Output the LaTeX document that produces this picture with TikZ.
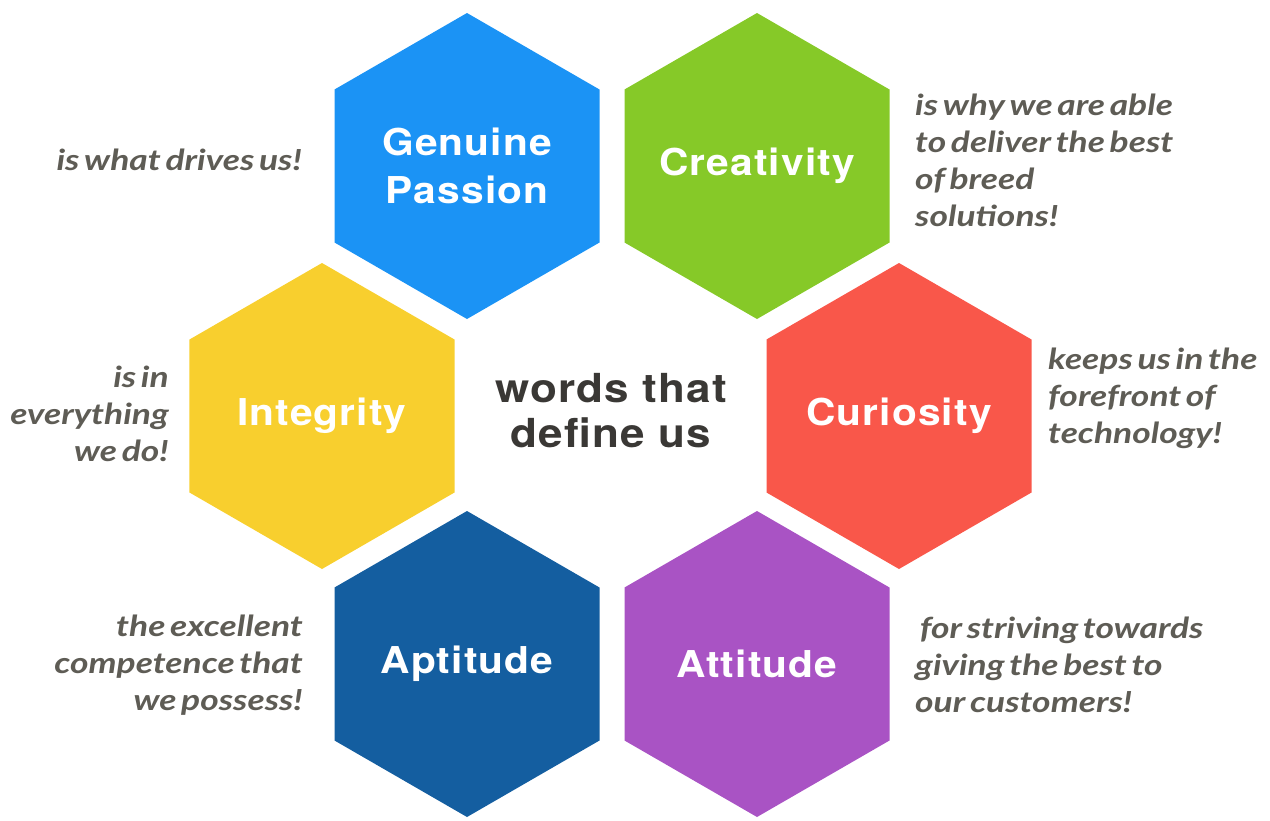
\documentclass[tikz,border=0pt]{standalone}
\usepackage{fontspec}
\setmainfont{TeX Gyre Heros}[FakeStretch=1.1, LetterSpace=3]
\newfontfamily\descfont[WordSpace={0.6,0,0}, FakeStretch=1.22]{Lato}
\usetikzlibrary{shapes.geometric}
\definecolor{myblue}{RGB}{27,147,245}
\definecolor{mygreen}{RGB}{134,201,40}
\definecolor{myyellow}{RGB}{248,207,46}
\definecolor{myred}{RGB}{249,87,74}
\definecolor{mynavy}{RGB}{20,94,160}
\definecolor{mypurple}{RGB}{169,83,196}
\definecolor{mygray}{RGB}{94,92,85}
\definecolor{mydark}{RGB}{58,56,53}

\begin{document}
\begin{tikzpicture}[x=1pt,y=-1pt,
  hexa/.style={regular polygon, regular polygon sides=6, shape border rotate=30,
    minimum size=306pt, inner sep=0pt, outer sep=0pt,
    label={[hexlabel]center:#1}},
  hexlabel/.style={text=white, align=center, inner sep=0pt,
    font=\fontsize{37}{48}\selectfont\bfseries},
  desc/.style={text=mygray, inner sep=0pt,
    font=\descfont\fontsize{29}{37}\selectfont\bfseries\itshape}]
\useasboundingbox (0,0) rectangle (1270,820);

% hexagons
\node[hexa={Genuine\\Passion}, fill=myblue] (passion) at (467,166) {};
\node[hexa=Creativity, fill=mygreen] (creativity) at (757,166) {};
\node[hexa=Integrity, fill=myyellow] (integrity) at (322,416) {};
\node[hexa=Curiosity, fill=myred] (curiosity) at (899,416) {};
\node[hexa=Aptitude, fill=mynavy] (aptitude) at (467,664) {};
\node[hexa=Attitude, fill=mypurple] (attitude) at (757,664) {};

\node[text=mydark, align=center, font=\fontsize{40}{45}\selectfont\bfseries] (title) at (611,411) {words that\\define us};

% descriptions
\node[desc, anchor=east, align=right] (passiontxt) at (302,160) {is what drives us!};
\node[desc, anchor=west, align=left] (creativitytxt) at (915,160) {is why we are able\\to deliver the best\\of breed\\solutions!};
\node[desc, anchor=east, align=right] (integritytxt) at (169,414) {is in\\everything\\we do!};
\node[desc, anchor=west, align=left] (curiositytxt) at (1048,398) {keeps us in the\\forefront of\\technology!};
\node[desc, anchor=east, align=right] (aptitudetxt) at (303,665) {the excellent\\competence that\\we possess!};
\node[desc, anchor=west, align=left] (attitudetxt) at (915,665) {\ for striving towards\\giving the best to\\our customers!};
\end{tikzpicture}
\end{document}
